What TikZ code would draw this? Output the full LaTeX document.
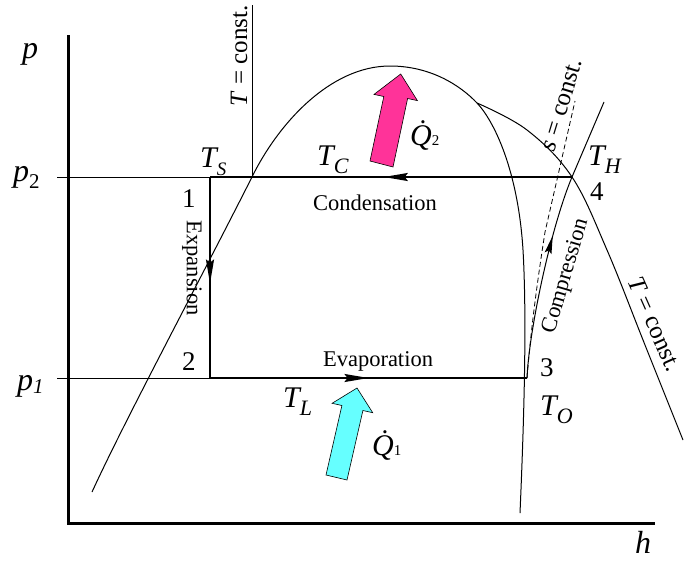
\documentclass[tikz,border=0pt]{standalone}
\usepackage{fontspec}
\setmainfont{Liberation Serif}
\usetikzlibrary{arrows.meta,decorations.markings}
\newcommand{\fs}[1]{\fontsize{#1}{#1}\selectfont}
\newcommand{\Tlab}[3]{\fs{30}\itshape #1\raisebox{-8pt}{\fs{#3}\itshape #2}}
\tikzset{
  headtip/.tip={Stealth[length=24pt,width=8pt,inset=3pt]},
  smalltip/.tip={Stealth[length=18pt,width=7pt,inset=3pt]},
}
\begin{document}
\begin{tikzpicture}[x=1pt,y=-1pt,
  thinline/.style={line width=1pt},
  cycleline/.style={line width=1.8pt},
  axisline/.style={line width=3pt, line join=miter},
  arrowat/.style 2 args={postaction={decorate},decoration={markings,mark=at position #1 with {\arrow{#2}}}},
  lab/.style={inner sep=0pt, anchor=base west},
  txt/.style={inner sep=0pt, font=\fs{22.5}},
  blockarrow/.style={draw=black, line width=0.6pt, line join=miter},
]
\useasboundingbox (0,0) rectangle (684,560);
\definecolor{qmag}{RGB}{255,51,153}
\definecolor{qcyan}{RGB}{102,255,255}

% key points
\coordinate (P1) at (210,177);
\coordinate (P2) at (210,378);
\coordinate (P3) at (527,378);
\coordinate (P4) at (572,177);
\coordinate (p2l) at (57,177);
\coordinate (p1l) at (57,378);
\coordinate (ytop) at (68,35);
\coordinate (origin) at (68,523);
\coordinate (xend) at (655,523);
\coordinate (iso1top) at (252,5);
\coordinate (iso1bot) at (252,177);
\coordinate (comptop) at (604,102);
\coordinate (dashtop) at (575,101);
\coordinate (crit) at (390,66);
\coordinate (branch) at (477,103);
\coordinate (domeL) at (92,492);
\coordinate (domeR) at (520,513);

% axes
\draw[axisline] (ytop) -- (origin) -- (xend);

% pressure lines (thin parts)
\draw[thinline] (p2l) -- (P1);
\draw[thinline] (p1l) -- (P2);

% isotherm left (vertical)
\draw[thinline] (iso1top) -- (iso1bot);

% saturation dome
\draw[thinline] (domeL) .. controls (125,420) and (200,280) .. (iso1bot)
  .. controls (278,124) and (330,66) .. (crit)
  .. controls (430,66) and (460,85) .. (branch)
  .. controls (494,121) and (518,170) .. (523,250)
  .. controls (527,320) and (524,420) .. (domeR);

% isotherm right
\draw[thinline] plot[smooth, tension=0.6] coordinates {(477,103) (527,130) (572,177) (607,250) (645,345) (683,440)};

% isentrope (dashed)
\draw[line width=0.8pt, dash pattern=on 5pt off 3pt] (P3) .. controls (531,330) and (536,290) .. (545,232) -- (dashtop);

% compression
\draw[thinline, arrowat={0.7}{smalltip}] (P3) .. controls (529,330) and (551,227) .. (P4);
\draw[thinline] (P4) -- (comptop);

% cycle lines
\draw[cycleline, arrowat={0.53}{headtip}] (P1) -- (P2);
\draw[cycleline, arrowat={0.5}{headtip}] (P2) -- (P3);
\draw[cycleline, arrowat={0.52}{headtip}] (P4) -- (P1);

% heat arrows
\draw[blockarrow, fill=qmag] (370,161) -- (393,167) -- (407.6,98.5) -- (417.4,100.6) -- (400.7,74) -- (374,94.4) -- (383.8,96.5) -- cycle;
\draw[blockarrow, fill=qcyan] (326,475) -- (347,480) -- (362.9,410.5) -- (372.7,412.7) -- (357,388) -- (332.1,403.3) -- (341.9,405.5) -- cycle;

% axis labels
\node[lab] (plab) at (22,58) {\fs{32}\itshape p};
\node[lab] (p2lab) at (13,181) {\fs{32}\itshape p\raisebox{-7pt}{\fs{21}\upshape 2}};
\node[lab] (p1lab) at (17,390) {\fs{32}\itshape p\raisebox{-3pt}{\fs{21}\itshape 1}};
\node[lab] (hlab) at (635,553) {\fs{32}\itshape h};

% temperature labels
\node[lab] (TS) at (200,167) {\Tlab{T}{S}{19}};
\node[lab] (TC) at (317,165) {\Tlab{T}{C}{22}};
\node[lab] (TH) at (588,165) {\Tlab{T}{H}{22}};
\node[lab] (TL) at (283,407) {\Tlab{T}{L}{22}};
\node[lab] (TO) at (540,415) {\Tlab{T}{O}{22}};

% state numbers
\node[lab] (n1) at (182,207) {\fs{27}1};
\node[lab] (n2) at (182,370) {\fs{27}2};
\node[lab] (n3) at (540,376) {\fs{27}3};
\node[lab] (n4) at (590,200) {\fs{27}4};

% heat labels
\node[lab] (Q2) at (410,145) {\fs{30}\itshape \.{Q}\upshape\fs{15}2};
\node[lab] (Q1) at (372,455) {\fs{30}\itshape \.{Q}\upshape\fs{15}1};

% process labels
\node[txt, anchor=base] (cond) at (375,210) {Condensation};
\node[txt, anchor=base] (evap) at (378,366) {Evaporation};
\node[txt, rotate=-90] (expn) at (192,268) {Expansion};
\node[txt, rotate=73.6] (comp) at (566,276) {Compression};

% constant labels
\node[txt, font=\fs{25}, rotate=90] (Tc1) at (239,56) {\textit{T} = const.};
\node[txt, font=\fs{25}, rotate=-66] (Tc2) at (655,324) {\textit{T} = const.};
\node[txt, font=\fs{25}, rotate=73] (sc) at (562,105) {\textit{s} = const.};
\end{tikzpicture}
\end{document}
